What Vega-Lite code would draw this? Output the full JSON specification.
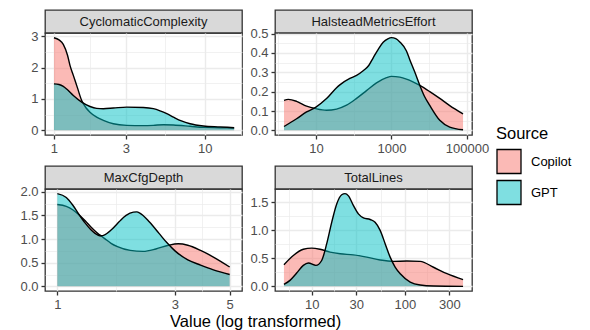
{
  "$schema": "https://vega.github.io/schema/vega-lite/v6.json",
  "padding": {"left": 19, "top": 9, "right": 0, "bottom": 0},
  "background": "white",
  "title": {"text": "Value (log transformed)", "orient": "bottom", "anchor": "middle", "fontSize": 16.5, "fontWeight": "normal", "color": "black", "offset": 2, "dx": -40},
  "datasets": {
    "dens": [
      {"m":"CyclomaticComplexity","s":"Copilot","v":1,"d":2.95},
      {"m":"CyclomaticComplexity","s":"Copilot","v":1.08,"d":2.88},
      {"m":"CyclomaticComplexity","s":"Copilot","v":1.153,"d":2.74},
      {"m":"CyclomaticComplexity","s":"Copilot","v":1.23,"d":2.39},
      {"m":"CyclomaticComplexity","s":"Copilot","v":1.277,"d":2.07},
      {"m":"CyclomaticComplexity","s":"Copilot","v":1.344,"d":1.75},
      {"m":"CyclomaticComplexity","s":"Copilot","v":1.43,"d":1.36},
      {"m":"CyclomaticComplexity","s":"Copilot","v":1.527,"d":0.95},
      {"m":"CyclomaticComplexity","s":"Copilot","v":1.63,"d":0.72},
      {"m":"CyclomaticComplexity","s":"Copilot","v":1.733,"d":0.58},
      {"m":"CyclomaticComplexity","s":"Copilot","v":1.919,"d":0.42},
      {"m":"CyclomaticComplexity","s":"Copilot","v":2.125,"d":0.32},
      {"m":"CyclomaticComplexity","s":"Copilot","v":2.476,"d":0.21},
      {"m":"CyclomaticComplexity","s":"Copilot","v":3.035,"d":0.16},
      {"m":"CyclomaticComplexity","s":"Copilot","v":3.916,"d":0.15},
      {"m":"CyclomaticComplexity","s":"Copilot","v":4.563,"d":0.16},
      {"m":"CyclomaticComplexity","s":"Copilot","v":5.32,"d":0.18},
      {"m":"CyclomaticComplexity","s":"Copilot","v":6.2,"d":0.17},
      {"m":"CyclomaticComplexity","s":"Copilot","v":7.99,"d":0.13},
      {"m":"CyclomaticComplexity","s":"Copilot","v":9.8,"d":0.095},
      {"m":"CyclomaticComplexity","s":"Copilot","v":12.64,"d":0.085},
      {"m":"CyclomaticComplexity","s":"Copilot","v":15.66,"d":0.075},
      {"m":"CyclomaticComplexity","s":"GPT","v":1,"d":1.48},
      {"m":"CyclomaticComplexity","s":"GPT","v":1.08,"d":1.46},
      {"m":"CyclomaticComplexity","s":"GPT","v":1.153,"d":1.4},
      {"m":"CyclomaticComplexity","s":"GPT","v":1.23,"d":1.29},
      {"m":"CyclomaticComplexity","s":"GPT","v":1.344,"d":1.11},
      {"m":"CyclomaticComplexity","s":"GPT","v":1.527,"d":0.9},
      {"m":"CyclomaticComplexity","s":"GPT","v":1.733,"d":0.76},
      {"m":"CyclomaticComplexity","s":"GPT","v":1.919,"d":0.7},
      {"m":"CyclomaticComplexity","s":"GPT","v":2.125,"d":0.69},
      {"m":"CyclomaticComplexity","s":"GPT","v":2.476,"d":0.71},
      {"m":"CyclomaticComplexity","s":"GPT","v":3.035,"d":0.74},
      {"m":"CyclomaticComplexity","s":"GPT","v":3.916,"d":0.73},
      {"m":"CyclomaticComplexity","s":"GPT","v":4.563,"d":0.69},
      {"m":"CyclomaticComplexity","s":"GPT","v":5.054,"d":0.62},
      {"m":"CyclomaticComplexity","s":"GPT","v":5.6,"d":0.53},
      {"m":"CyclomaticComplexity","s":"GPT","v":6.2,"d":0.42},
      {"m":"CyclomaticComplexity","s":"GPT","v":7.0,"d":0.3},
      {"m":"CyclomaticComplexity","s":"GPT","v":7.99,"d":0.21},
      {"m":"CyclomaticComplexity","s":"GPT","v":9.8,"d":0.14},
      {"m":"CyclomaticComplexity","s":"GPT","v":12.64,"d":0.11},
      {"m":"CyclomaticComplexity","s":"GPT","v":15.66,"d":0.085},

      {"m":"HalsteadMetricsEffort","s":"Copilot","v":1.43,"d":0.155},
      {"m":"HalsteadMetricsEffort","s":"Copilot","v":1.86,"d":0.16},
      {"m":"HalsteadMetricsEffort","s":"Copilot","v":3.08,"d":0.15},
      {"m":"HalsteadMetricsEffort","s":"Copilot","v":5.66,"d":0.125},
      {"m":"HalsteadMetricsEffort","s":"Copilot","v":10,"d":0.112},
      {"m":"HalsteadMetricsEffort","s":"Copilot","v":19.1,"d":0.104},
      {"m":"HalsteadMetricsEffort","s":"Copilot","v":35.2,"d":0.11},
      {"m":"HalsteadMetricsEffort","s":"Copilot","v":64.7,"d":0.13},
      {"m":"HalsteadMetricsEffort","s":"Copilot","v":119,"d":0.165},
      {"m":"HalsteadMetricsEffort","s":"Copilot","v":218,"d":0.205},
      {"m":"HalsteadMetricsEffort","s":"Copilot","v":401,"d":0.245},
      {"m":"HalsteadMetricsEffort","s":"Copilot","v":738,"d":0.272},
      {"m":"HalsteadMetricsEffort","s":"Copilot","v":1000,"d":0.279},
      {"m":"HalsteadMetricsEffort","s":"Copilot","v":1660,"d":0.275},
      {"m":"HalsteadMetricsEffort","s":"Copilot","v":2490,"d":0.265},
      {"m":"HalsteadMetricsEffort","s":"Copilot","v":5610,"d":0.232},
      {"m":"HalsteadMetricsEffort","s":"Copilot","v":10300,"d":0.2},
      {"m":"HalsteadMetricsEffort","s":"Copilot","v":18960,"d":0.165},
      {"m":"HalsteadMetricsEffort","s":"Copilot","v":34800,"d":0.128},
      {"m":"HalsteadMetricsEffort","s":"Copilot","v":78300,"d":0.085},
      {"m":"HalsteadMetricsEffort","s":"GPT","v":1.43,"d":0.02},
      {"m":"HalsteadMetricsEffort","s":"GPT","v":3.08,"d":0.06},
      {"m":"HalsteadMetricsEffort","s":"GPT","v":5.66,"d":0.095},
      {"m":"HalsteadMetricsEffort","s":"GPT","v":10,"d":0.12},
      {"m":"HalsteadMetricsEffort","s":"GPT","v":19.1,"d":0.164},
      {"m":"HalsteadMetricsEffort","s":"GPT","v":35.2,"d":0.22},
      {"m":"HalsteadMetricsEffort","s":"GPT","v":43,"d":0.235},
      {"m":"HalsteadMetricsEffort","s":"GPT","v":79,"d":0.268},
      {"m":"HalsteadMetricsEffort","s":"GPT","v":119,"d":0.284},
      {"m":"HalsteadMetricsEffort","s":"GPT","v":178,"d":0.308},
      {"m":"HalsteadMetricsEffort","s":"GPT","v":250,"d":0.335},
      {"m":"HalsteadMetricsEffort","s":"GPT","v":328,"d":0.375},
      {"m":"HalsteadMetricsEffort","s":"GPT","v":450,"d":0.42},
      {"m":"HalsteadMetricsEffort","s":"GPT","v":603,"d":0.455},
      {"m":"HalsteadMetricsEffort","s":"GPT","v":800,"d":0.473},
      {"m":"HalsteadMetricsEffort","s":"GPT","v":1000,"d":0.479},
      {"m":"HalsteadMetricsEffort","s":"GPT","v":1300,"d":0.474},
      {"m":"HalsteadMetricsEffort","s":"GPT","v":1660,"d":0.457},
      {"m":"HalsteadMetricsEffort","s":"GPT","v":2490,"d":0.41},
      {"m":"HalsteadMetricsEffort","s":"GPT","v":3050,"d":0.365},
      {"m":"HalsteadMetricsEffort","s":"GPT","v":4160,"d":0.3},
      {"m":"HalsteadMetricsEffort","s":"GPT","v":5610,"d":0.233},
      {"m":"HalsteadMetricsEffort","s":"GPT","v":7500,"d":0.175},
      {"m":"HalsteadMetricsEffort","s":"GPT","v":10300,"d":0.129},
      {"m":"HalsteadMetricsEffort","s":"GPT","v":18960,"d":0.052},
      {"m":"HalsteadMetricsEffort","s":"GPT","v":34800,"d":0.017},
      {"m":"HalsteadMetricsEffort","s":"GPT","v":78300,"d":0.003},

      {"m":"MaxCfgDepth","s":"Copilot","v":1,"d":1.73},
      {"m":"MaxCfgDepth","s":"Copilot","v":1.087,"d":1.69},
      {"m":"MaxCfgDepth","s":"Copilot","v":1.154,"d":1.62},
      {"m":"MaxCfgDepth","s":"Copilot","v":1.22,"d":1.52},
      {"m":"MaxCfgDepth","s":"Copilot","v":1.3,"d":1.38},
      {"m":"MaxCfgDepth","s":"Copilot","v":1.365,"d":1.26},
      {"m":"MaxCfgDepth","s":"Copilot","v":1.422,"d":1.17},
      {"m":"MaxCfgDepth","s":"Copilot","v":1.465,"d":1.11},
      {"m":"MaxCfgDepth","s":"Copilot","v":1.51,"d":1.06},
      {"m":"MaxCfgDepth","s":"Copilot","v":1.556,"d":1.01},
      {"m":"MaxCfgDepth","s":"Copilot","v":1.651,"d":0.91},
      {"m":"MaxCfgDepth","s":"Copilot","v":1.753,"d":0.84},
      {"m":"MaxCfgDepth","s":"Copilot","v":1.975,"d":0.76},
      {"m":"MaxCfgDepth","s":"Copilot","v":2.227,"d":0.74},
      {"m":"MaxCfgDepth","s":"Copilot","v":2.509,"d":0.79},
      {"m":"MaxCfgDepth","s":"Copilot","v":2.826,"d":0.87},
      {"m":"MaxCfgDepth","s":"Copilot","v":3.093,"d":0.9},
      {"m":"MaxCfgDepth","s":"Copilot","v":3.382,"d":0.87},
      {"m":"MaxCfgDepth","s":"Copilot","v":3.81,"d":0.76},
      {"m":"MaxCfgDepth","s":"Copilot","v":4.295,"d":0.62},
      {"m":"MaxCfgDepth","s":"Copilot","v":5,"d":0.41},
      {"m":"MaxCfgDepth","s":"GPT","v":1,"d":1.96},
      {"m":"MaxCfgDepth","s":"GPT","v":1.087,"d":1.88},
      {"m":"MaxCfgDepth","s":"GPT","v":1.154,"d":1.72},
      {"m":"MaxCfgDepth","s":"GPT","v":1.22,"d":1.53},
      {"m":"MaxCfgDepth","s":"GPT","v":1.3,"d":1.33},
      {"m":"MaxCfgDepth","s":"GPT","v":1.365,"d":1.2},
      {"m":"MaxCfgDepth","s":"GPT","v":1.422,"d":1.12},
      {"m":"MaxCfgDepth","s":"GPT","v":1.465,"d":1.08},
      {"m":"MaxCfgDepth","s":"GPT","v":1.51,"d":1.07},
      {"m":"MaxCfgDepth","s":"GPT","v":1.556,"d":1.09},
      {"m":"MaxCfgDepth","s":"GPT","v":1.651,"d":1.19},
      {"m":"MaxCfgDepth","s":"GPT","v":1.753,"d":1.33},
      {"m":"MaxCfgDepth","s":"GPT","v":1.806,"d":1.4},
      {"m":"MaxCfgDepth","s":"GPT","v":1.9,"d":1.5},
      {"m":"MaxCfgDepth","s":"GPT","v":2.035,"d":1.57},
      {"m":"MaxCfgDepth","s":"GPT","v":2.1,"d":1.575},
      {"m":"MaxCfgDepth","s":"GPT","v":2.161,"d":1.55},
      {"m":"MaxCfgDepth","s":"GPT","v":2.364,"d":1.36},
      {"m":"MaxCfgDepth","s":"GPT","v":2.585,"d":1.12},
      {"m":"MaxCfgDepth","s":"GPT","v":2.785,"d":0.92},
      {"m":"MaxCfgDepth","s":"GPT","v":3,"d":0.75},
      {"m":"MaxCfgDepth","s":"GPT","v":3.382,"d":0.56},
      {"m":"MaxCfgDepth","s":"GPT","v":3.81,"d":0.45},
      {"m":"MaxCfgDepth","s":"GPT","v":4.295,"d":0.35},
      {"m":"MaxCfgDepth","s":"GPT","v":5,"d":0.25},

      {"m":"TotalLines","s":"Copilot","v":5.04,"d":0.385},
      {"m":"TotalLines","s":"Copilot","v":6.35,"d":0.55},
      {"m":"TotalLines","s":"Copilot","v":8.13,"d":0.66},
      {"m":"TotalLines","s":"Copilot","v":10,"d":0.68},
      {"m":"TotalLines","s":"Copilot","v":12.29,"d":0.66},
      {"m":"TotalLines","s":"Copilot","v":15.74,"d":0.61},
      {"m":"TotalLines","s":"Copilot","v":20.2,"d":0.58},
      {"m":"TotalLines","s":"Copilot","v":28,"d":0.56},
      {"m":"TotalLines","s":"Copilot","v":39,"d":0.52},
      {"m":"TotalLines","s":"Copilot","v":54.3,"d":0.47},
      {"m":"TotalLines","s":"Copilot","v":75.5,"d":0.445},
      {"m":"TotalLines","s":"Copilot","v":105,"d":0.45},
      {"m":"TotalLines","s":"Copilot","v":146,"d":0.445},
      {"m":"TotalLines","s":"Copilot","v":203,"d":0.34},
      {"m":"TotalLines","s":"Copilot","v":283,"d":0.225},
      {"m":"TotalLines","s":"Copilot","v":421,"d":0.12},
      {"m":"TotalLines","s":"GPT","v":5.04,"d":0.036},
      {"m":"TotalLines","s":"GPT","v":5.85,"d":0.107},
      {"m":"TotalLines","s":"GPT","v":6.9,"d":0.237},
      {"m":"TotalLines","s":"GPT","v":8.13,"d":0.373},
      {"m":"TotalLines","s":"GPT","v":9.21,"d":0.415},
      {"m":"TotalLines","s":"GPT","v":11.1,"d":0.373},
      {"m":"TotalLines","s":"GPT","v":12.8,"d":0.46},
      {"m":"TotalLines","s":"GPT","v":14.5,"d":0.76},
      {"m":"TotalLines","s":"GPT","v":16.4,"d":1.14},
      {"m":"TotalLines","s":"GPT","v":18.6,"d":1.47},
      {"m":"TotalLines","s":"GPT","v":21,"d":1.63},
      {"m":"TotalLines","s":"GPT","v":22.8,"d":1.65},
      {"m":"TotalLines","s":"GPT","v":24.8,"d":1.61},
      {"m":"TotalLines","s":"GPT","v":28,"d":1.44},
      {"m":"TotalLines","s":"GPT","v":31.7,"d":1.29},
      {"m":"TotalLines","s":"GPT","v":35.9,"d":1.22},
      {"m":"TotalLines","s":"GPT","v":42.4,"d":1.19},
      {"m":"TotalLines","s":"GPT","v":47.9,"d":1.14},
      {"m":"TotalLines","s":"GPT","v":54.3,"d":0.996},
      {"m":"TotalLines","s":"GPT","v":61.4,"d":0.76},
      {"m":"TotalLines","s":"GPT","v":69.5,"d":0.52},
      {"m":"TotalLines","s":"GPT","v":78.6,"d":0.344},
      {"m":"TotalLines","s":"GPT","v":89.2,"d":0.225},
      {"m":"TotalLines","s":"GPT","v":114,"d":0.077},
      {"m":"TotalLines","s":"GPT","v":146,"d":0.024},
      {"m":"TotalLines","s":"GPT","v":203,"d":0.006},
      {"m":"TotalLines","s":"GPT","v":421,"d":0.0}
    ]
  },
  "columns": 2,
  "spacing": {"row": 9, "column": 6},
  "resolve": {"scale": {"x": "independent", "y": "independent", "fill": "shared"}},
  "concat": [
    {
      "spacing": 0, "bounds": "flush",
      "vconcat": [
        {"width": 197, "height": 23, "data": {"values": [{"label": "CyclomaticComplexity"}]},
         "mark": {"type": "text", "fontSize": 13, "color": "#1A1A1A", "baseline": "middle", "align": "center"},
         "encoding": {"text": {"field": "label"}},
         "view": {"fill": "#D9D9D9", "stroke": "#333333", "strokeWidth": 1.3}},
        {"width": 197, "height": 102, "data": {"name": "dens"},
         "transform": [{"filter": "datum.m === 'CyclomaticComplexity'"}],
         "encoding": {
           "x": {"field": "v", "type": "quantitative", "scale": {"type": "log", "domain": [0.872, 17.66], "nice": false},
                 "axis": {"title": null, "values": [1, 1.732, 3, 5.477, 10, 17.32],
                          "labelExpr": "indexof([1,3,10], datum.value) >= 0 ? format(datum.value, '~g') : ''",
                          "tickOpacity": {"condition": {"test": "indexof([1,3,10], datum.value) < 0", "value": 0}, "value": 1},
                          "gridWidth": {"condition": {"test": "indexof([1,3,10], datum.value) < 0", "value": 0.7}, "value": 1.4}}},
           "y": {"field": "d", "type": "quantitative", "scale": {"domain": [-0.148, 3.1], "nice": false, "zero": false},
                 "axis": {"title": null, "values": [0, 0.5, 1, 1.5, 2, 2.5, 3],
                          "labelExpr": "indexof([0,1,2,3], datum.value) >= 0 ? format(datum.value, '~g') : ''",
                          "tickOpacity": {"condition": {"test": "indexof([0,1,2,3], datum.value) < 0", "value": 0}, "value": 1},
                          "gridWidth": {"condition": {"test": "indexof([0,1,2,3], datum.value) < 0", "value": 0.7}, "value": 1.4}}}
         },
         "layer": [
           {"transform": [{"filter": "datum.s === 'Copilot'"}], "mark": {"type": "area", "interpolate": "monotone", "fillOpacity": 1},
            "encoding": {"y2": {"datum": 0}, "fill": {"field": "s", "type": "nominal", "scale": {"domain": ["Copilot", "GPT"], "range": ["rgba(248,118,109,0.5)", "rgba(0,191,196,0.5)"]}, "legend": {"title": "Source", "orient": "none", "legendX": 451, "legendY": 116}}}},
           {"transform": [{"filter": "datum.s === 'Copilot'"}], "mark": {"type": "line", "interpolate": "monotone", "color": "black", "strokeWidth": 1.4}},
           {"transform": [{"filter": "datum.s === 'GPT'"}], "mark": {"type": "area", "interpolate": "monotone", "fillOpacity": 1},
            "encoding": {"y2": {"datum": 0}, "fill": {"field": "s", "type": "nominal", "scale": {"domain": ["Copilot", "GPT"], "range": ["rgba(248,118,109,0.5)", "rgba(0,191,196,0.5)"]}, "legend": {"title": "Source", "orient": "none", "legendX": 451, "legendY": 116}}}},
           {"transform": [{"filter": "datum.s === 'GPT'"}], "mark": {"type": "line", "interpolate": "monotone", "color": "black", "strokeWidth": 1.4}}
         ]}
      ]
    },
    {
      "spacing": 0, "bounds": "flush",
      "vconcat": [
        {"width": 197, "height": 23, "data": {"values": [{"label": "HalsteadMetricsEffort"}]},
         "mark": {"type": "text", "fontSize": 13, "color": "#1A1A1A", "baseline": "middle", "align": "center"},
         "encoding": {"text": {"field": "label"}},
         "view": {"fill": "#D9D9D9", "stroke": "#333333", "strokeWidth": 1.3}},
        {"width": 197, "height": 102, "data": {"name": "dens"},
         "transform": [{"filter": "datum.m === 'HalsteadMetricsEffort'"}],
         "encoding": {
           "x": {"field": "v", "type": "quantitative", "scale": {"type": "log", "domain": [0.826, 135200], "nice": false},
                 "axis": {"title": null, "values": [1, 10, 100, 1000, 10000, 100000],
                          "labelExpr": "indexof([10,1000,100000], datum.value) >= 0 ? format(datum.value, '~g') : ''",
                          "tickOpacity": {"condition": {"test": "indexof([10,1000,100000], datum.value) < 0", "value": 0}, "value": 1},
                          "gridWidth": {"condition": {"test": "indexof([10,1000,100000], datum.value) < 0", "value": 0.7}, "value": 1.4}}},
           "y": {"field": "d", "type": "quantitative", "scale": {"domain": [-0.024, 0.503], "nice": false, "zero": false},
                 "axis": {"title": null, "values": [0, 0.05, 0.1, 0.15, 0.2, 0.25, 0.3, 0.35, 0.4, 0.45, 0.5],
                          "labelExpr": "indexof([0,0.1,0.2,0.3,0.4,0.5], datum.value) >= 0 ? format(datum.value, '.1f') : ''",
                          "tickOpacity": {"condition": {"test": "indexof([0,0.1,0.2,0.3,0.4,0.5], datum.value) < 0", "value": 0}, "value": 1},
                          "gridWidth": {"condition": {"test": "indexof([0,0.1,0.2,0.3,0.4,0.5], datum.value) < 0", "value": 0.7}, "value": 1.4}}}
         },
         "layer": [
           {"transform": [{"filter": "datum.s === 'Copilot'"}], "mark": {"type": "area", "interpolate": "monotone", "fillOpacity": 1},
            "encoding": {"y2": {"datum": 0}, "fill": {"field": "s", "type": "nominal", "scale": {"domain": ["Copilot", "GPT"], "range": ["rgba(248,118,109,0.5)", "rgba(0,191,196,0.5)"]}, "legend": {"title": "Source", "orient": "none", "legendX": 451, "legendY": 116}}}},
           {"transform": [{"filter": "datum.s === 'Copilot'"}], "mark": {"type": "line", "interpolate": "monotone", "color": "black", "strokeWidth": 1.4}},
           {"transform": [{"filter": "datum.s === 'GPT'"}], "mark": {"type": "area", "interpolate": "monotone", "fillOpacity": 1},
            "encoding": {"y2": {"datum": 0}, "fill": {"field": "s", "type": "nominal", "scale": {"domain": ["Copilot", "GPT"], "range": ["rgba(248,118,109,0.5)", "rgba(0,191,196,0.5)"]}, "legend": {"title": "Source", "orient": "none", "legendX": 451, "legendY": 116}}}},
           {"transform": [{"filter": "datum.s === 'GPT'"}], "mark": {"type": "line", "interpolate": "monotone", "color": "black", "strokeWidth": 1.4}}
         ]}
      ]
    },
    {
      "spacing": 0, "bounds": "flush",
      "vconcat": [
        {"width": 197, "height": 23, "data": {"values": [{"label": "MaxCfgDepth"}]},
         "mark": {"type": "text", "fontSize": 13, "color": "#1A1A1A", "baseline": "middle", "align": "center"},
         "encoding": {"text": {"field": "label"}},
         "view": {"fill": "#D9D9D9", "stroke": "#333333", "strokeWidth": 1.3}},
        {"width": 197, "height": 102, "data": {"name": "dens"},
         "transform": [{"filter": "datum.m === 'MaxCfgDepth'"}],
         "encoding": {
           "x": {"field": "v", "type": "quantitative", "scale": {"type": "log", "domain": [0.891, 5.61], "nice": false},
                 "axis": {"title": null, "values": [1, 1.732, 3, 3.873, 5],
                          "labelExpr": "indexof([1,3,5], datum.value) >= 0 ? format(datum.value, '~g') : ''",
                          "tickOpacity": {"condition": {"test": "indexof([1,3,5], datum.value) < 0", "value": 0}, "value": 1},
                          "gridWidth": {"condition": {"test": "indexof([1,3,5], datum.value) < 0", "value": 0.7}, "value": 1.4}}},
           "y": {"field": "d", "type": "quantitative", "scale": {"domain": [-0.098, 2.058], "nice": false, "zero": false},
                 "axis": {"title": null, "values": [0, 0.25, 0.5, 0.75, 1, 1.25, 1.5, 1.75, 2],
                          "labelExpr": "indexof([0,0.5,1,1.5,2], datum.value) >= 0 ? format(datum.value, '.1f') : ''",
                          "tickOpacity": {"condition": {"test": "indexof([0,0.5,1,1.5,2], datum.value) < 0", "value": 0}, "value": 1},
                          "gridWidth": {"condition": {"test": "indexof([0,0.5,1,1.5,2], datum.value) < 0", "value": 0.7}, "value": 1.4}}}
         },
         "layer": [
           {"transform": [{"filter": "datum.s === 'Copilot'"}], "mark": {"type": "area", "interpolate": "monotone", "fillOpacity": 1},
            "encoding": {"y2": {"datum": 0}, "fill": {"field": "s", "type": "nominal", "scale": {"domain": ["Copilot", "GPT"], "range": ["rgba(248,118,109,0.5)", "rgba(0,191,196,0.5)"]}, "legend": {"title": "Source", "orient": "none", "legendX": 451, "legendY": 116}}}},
           {"transform": [{"filter": "datum.s === 'Copilot'"}], "mark": {"type": "line", "interpolate": "monotone", "color": "black", "strokeWidth": 1.4}},
           {"transform": [{"filter": "datum.s === 'GPT'"}], "mark": {"type": "area", "interpolate": "monotone", "fillOpacity": 1},
            "encoding": {"y2": {"datum": 0}, "fill": {"field": "s", "type": "nominal", "scale": {"domain": ["Copilot", "GPT"], "range": ["rgba(248,118,109,0.5)", "rgba(0,191,196,0.5)"]}, "legend": {"title": "Source", "orient": "none", "legendX": 451, "legendY": 116}}}},
           {"transform": [{"filter": "datum.s === 'GPT'"}], "mark": {"type": "line", "interpolate": "monotone", "color": "black", "strokeWidth": 1.4}}
         ]}
      ]
    },
    {
      "spacing": 0, "bounds": "flush",
      "vconcat": [
        {"width": 197, "height": 23, "data": {"values": [{"label": "TotalLines"}]},
         "mark": {"type": "text", "fontSize": 13, "color": "#1A1A1A", "baseline": "middle", "align": "center"},
         "encoding": {"text": {"field": "label"}},
         "view": {"fill": "#D9D9D9", "stroke": "#333333", "strokeWidth": 1.3}},
        {"width": 197, "height": 102, "data": {"name": "dens"},
         "transform": [{"filter": "datum.m === 'TotalLines'"}],
         "encoding": {
           "x": {"field": "v", "type": "quantitative", "scale": {"type": "log", "domain": [4.04, 525], "nice": false},
                 "axis": {"title": null, "values": [5.77, 10, 17.32, 30, 54.77, 100, 173.2, 300],
                          "labelExpr": "indexof([10,30,100,300], datum.value) >= 0 ? format(datum.value, '~g') : ''",
                          "tickOpacity": {"condition": {"test": "indexof([10,30,100,300], datum.value) < 0", "value": 0}, "value": 1},
                          "gridWidth": {"condition": {"test": "indexof([10,30,100,300], datum.value) < 0", "value": 0.7}, "value": 1.4}}},
           "y": {"field": "d", "type": "quantitative", "scale": {"domain": [-0.0825, 1.7325], "nice": false, "zero": false},
                 "axis": {"title": null, "values": [0, 0.25, 0.5, 0.75, 1, 1.25, 1.5],
                          "labelExpr": "indexof([0,0.5,1,1.5], datum.value) >= 0 ? format(datum.value, '.1f') : ''",
                          "tickOpacity": {"condition": {"test": "indexof([0,0.5,1,1.5], datum.value) < 0", "value": 0}, "value": 1},
                          "gridWidth": {"condition": {"test": "indexof([0,0.5,1,1.5], datum.value) < 0", "value": 0.7}, "value": 1.4}}}
         },
         "layer": [
           {"transform": [{"filter": "datum.s === 'Copilot'"}], "mark": {"type": "area", "interpolate": "monotone", "fillOpacity": 1},
            "encoding": {"y2": {"datum": 0}, "fill": {"field": "s", "type": "nominal", "scale": {"domain": ["Copilot", "GPT"], "range": ["rgba(248,118,109,0.5)", "rgba(0,191,196,0.5)"]}, "legend": {"title": "Source", "orient": "none", "legendX": 451, "legendY": 116}}}},
           {"transform": [{"filter": "datum.s === 'Copilot'"}], "mark": {"type": "line", "interpolate": "monotone", "color": "black", "strokeWidth": 1.4}},
           {"transform": [{"filter": "datum.s === 'GPT'"}], "mark": {"type": "area", "interpolate": "monotone", "fillOpacity": 1},
            "encoding": {"y2": {"datum": 0}, "fill": {"field": "s", "type": "nominal", "scale": {"domain": ["Copilot", "GPT"], "range": ["rgba(248,118,109,0.5)", "rgba(0,191,196,0.5)"]}, "legend": {"title": "Source", "orient": "none", "legendX": 451, "legendY": 116}}}},
           {"transform": [{"filter": "datum.s === 'GPT'"}], "mark": {"type": "line", "interpolate": "monotone", "color": "black", "strokeWidth": 1.4}}
         ]}
      ]
    }
  ],
  "config": {
    "font": "Liberation Sans",
    "view": {"stroke": "#333333", "strokeWidth": 1.3},
    "axis": {"domain": false, "tickColor": "#333333", "tickWidth": 1.3, "tickSize": 4, "labelColor": "#4D4D4D", "labelFontSize": 13, "labelPadding": 3, "gridColor": "#EBEBEB", "labelFlush": false, "labelOverlap": false, "labelBound": false},
    "legend": {"titleFontSize": 16.5, "titleFontWeight": "normal", "titleColor": "black", "labelFontSize": 13, "labelColor": "black", "symbolType": "square", "symbolSize": 576, "symbolStrokeColor": "black", "symbolStrokeWidth": 1.3, "symbolOpacity": 1, "rowPadding": 1, "labelOffset": 9, "titlePadding": 6}
  }
}
